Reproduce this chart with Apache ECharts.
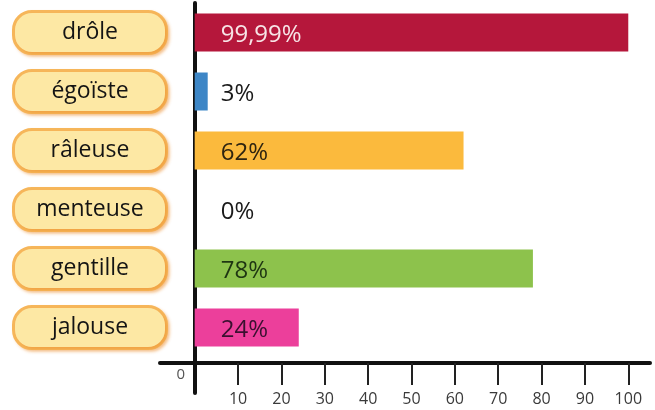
<!DOCTYPE html>
<html>
<head>
<meta charset="utf-8">
<script src="https://cdn.jsdelivr.net/npm/echarts@6/dist/echarts.min.js"></script>
<style>
html,body{margin:0;padding:0;background:#fff;}
#chart{width:655px;height:410px;}
</style>
</head>
<body>
<div id="chart"></div>
<script>
const categories = ['drôle', 'égoïste', 'râleuse', 'menteuse', 'gentille', 'jalouse'];
const values = [99.99, 3, 62, 0, 78, 24];
const barColors = ['#b5173b', '#3d86c6', '#fbba3d', '#8dc24c', '#8dc24c', '#ec3f9b'];
const labelColors = ['#f7e4e6', '#1a1a1a', '#2e2410', '#1a1a1a', '#1e3512', '#3a1030'];
const tickValues = [10, 20, 30, 40, 50, 60, 70, 80, 90, 100];
const originLabel = ['0'];

const FONT = '"Open Sans", "Noto Sans", sans-serif';
const chart = echarts.init(document.getElementById('chart'));
const axisLineStyle = { color: '#111', width: 4 };

chart.setOption({
  animation: false,
  backgroundColor: '#fff',
  grid: [
    { left: 160, right: 5, top: 3, height: 354, outerBoundsMode: 'none', containLabel: false },
    { left: 160, right: 5, top: 357, height: 36, outerBoundsMode: 'none', containLabel: false }
  ],
  xAxis: [
    {
      gridIndex: 0, type: 'value', min: -8, max: 105, position: 'bottom', offset: 6,
      axisLine: { show: true, onZero: false, lineStyle: axisLineStyle },
      axisTick: { show: true, customValues: tickValues, length: 22, lineStyle: { color: '#222', width: 2 } },
      axisLabel: { customValues: tickValues, margin: 28, fontSize: 16, color: '#3a3a3a', fontFamily: FONT },
      splitLine: { show: false }
    },
    {
      gridIndex: 1, type: 'value', min: -8, max: 105, show: false
    }
  ],
  yAxis: [
    {
      gridIndex: 0, type: 'category', data: categories, inverse: true,
      axisLine: { show: true, onZero: true, lineStyle: axisLineStyle },
      axisTick: { show: false },
      axisLabel: {
        margin: -5,
        formatter: v => '{b|' + v + '}',
        rich: {
          b: {
            width: 150, height: 39, align: 'center', verticalAlign: 'middle',
            backgroundColor: '#fde8a4', borderColor: '#f6b65a', borderWidth: 3, borderRadius: 17,
            fontSize: 23, color: '#141414', fontFamily: FONT,
            shadowColor: 'rgba(235,140,40,0.45)', shadowBlur: 3, shadowOffsetX: 2, shadowOffsetY: 2
          }
        }
      }
    },
    {
      gridIndex: 1, type: 'category', data: originLabel,
      axisLine: { show: true, onZero: true, lineStyle: axisLineStyle },
      axisTick: { show: false },
      axisLabel: { margin: -25, fontSize: 15, color: '#555', fontFamily: FONT }
    }
  ],
  series: [{
    type: 'bar', xAxisIndex: 0, yAxisIndex: 0, barWidth: 38,
    data: values.map((v, i) => ({ value: v, itemStyle: { color: barColors[i] }, label: { color: labelColors[i] } })),
    label: {
      show: true, position: 'insideLeft', distance: 26, offset: [0, 3],
      fontSize: 24, fontFamily: FONT,
      formatter: p => String(p.value).replace('.', ',') + '%'
    }
  }]
});
</script>
</body>
</html>
